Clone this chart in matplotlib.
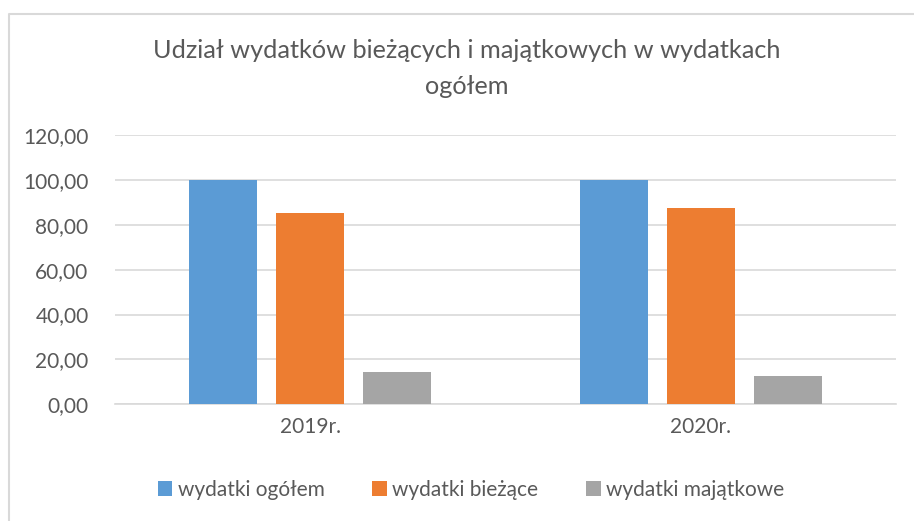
import matplotlib.pyplot as plt
import numpy as np
from matplotlib.lines import Line2D
from matplotlib.ticker import FuncFormatter

# data
categories = ["2019r.", "2020r."]
series_names = ["wydatki ogółem", "wydatki bieżące", "wydatki majątkowe"]
ogolem = [100.0, 100.0]
biezace = [85.4, 87.4]
majatkowe = [14.6, 12.6]
colors = ["#5B9BD5", "#ED7D31", "#A5A5A5"]
yticks = [0, 20, 40, 60, 80, 100, 120]

plt.rcParams['font.family'] = ['Lato', 'DejaVu Sans']
txt = "#595959"

fig = plt.figure(figsize=(9.14, 5.21), dpi=100)
W, H = 914, 521
ax = fig.add_axes([115 / W, 1 - 404.3 / H, (896 - 115) / W, (404.3 - 135) / H])

# chart area border: only the top and left edges are visible in the crop
fig.lines.append(Line2D([9 / W, 9 / W, 1], [0, 1 - 13.5 / H, 1 - 13.5 / H],
                        transform=fig.transFigure, color="#D9D9D9", linewidth=1.5))

x = np.arange(len(categories))
width = 0.174
step = 0.223
for i, (vals, name) in enumerate(zip([ogolem, biezace, majatkowe], series_names)):
    ax.bar(x + (i - 1) * step, vals, width, color=colors[i], label=name, zorder=3)

ax.set_xlim(-0.5, 1.5)
ax.set_ylim(0, 120)
ax.set_yticks(yticks)
ax.yaxis.set_major_formatter(FuncFormatter(lambda v, p: f"{v:.2f}".replace(".", ",")))
ax.set_xticks(x)
ax.set_xticklabels(categories)
ax.tick_params(length=0, labelsize=15, colors=txt, pad=9)
ax.tick_params(axis='y', pad=19)
ax.grid(axis='y', color="#D9D9D9", linewidth=1.2, zorder=0)
for s in ["top", "right", "left"]:
    ax.spines[s].set_visible(False)
ax.spines["bottom"].set_color("#D9D9D9")
ax.spines["bottom"].set_linewidth(1.2)

fig.text(467 / W, 1 - 51 / H, "Udział wydatków bieżących i majątkowych w wydatkach",
         ha='center', va='center', fontsize=18.2, color=txt)
fig.text(467 / W, 1 - 87 / H, "ogółem", ha='center', va='center', fontsize=18.2, color=txt)

fig.legend(loc='center', bbox_to_anchor=(471 / W, 1 - 490 / H), ncol=3, frameon=False,
           fontsize=15, labelcolor=txt, handlelength=0.7, handleheight=0.7,
           handletextpad=0.25, columnspacing=2.3)

fig.savefig("out.png", dpi=100)
